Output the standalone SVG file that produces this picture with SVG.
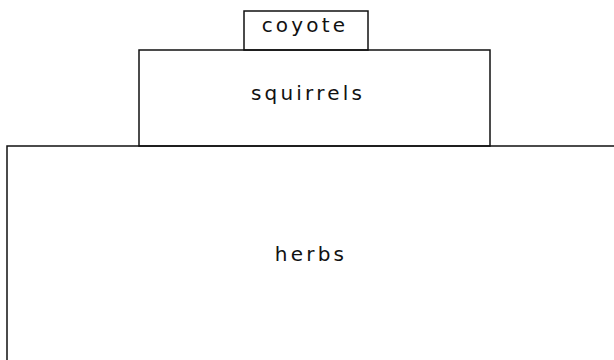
<svg xmlns="http://www.w3.org/2000/svg" width="614" height="360" viewBox="0 0 614 360">
<style>
.box{fill:none;stroke:#111;stroke-width:1.5}
.lbl{font-family:"DejaVu Sans",sans-serif;font-size:20px;letter-spacing:3.2px;fill:#111;text-anchor:middle}
</style>
<rect width="614" height="360" fill="#fff"/>
<g id="herbs">
<path class="box" d="M7 362 V146 H616"/>
<text class="lbl" x="311" y="261">herbs</text>
</g>
<g id="squirrels">
<rect class="box" x="139" y="50" width="351" height="96"/>
<text class="lbl" x="308" y="100">squirrels</text>
</g>
<g id="coyote">
<rect class="box" x="244" y="11" width="124" height="39"/>
<text class="lbl" x="305" y="32">coyote</text>
</g>
<g id="connectors"></g>
</svg>
